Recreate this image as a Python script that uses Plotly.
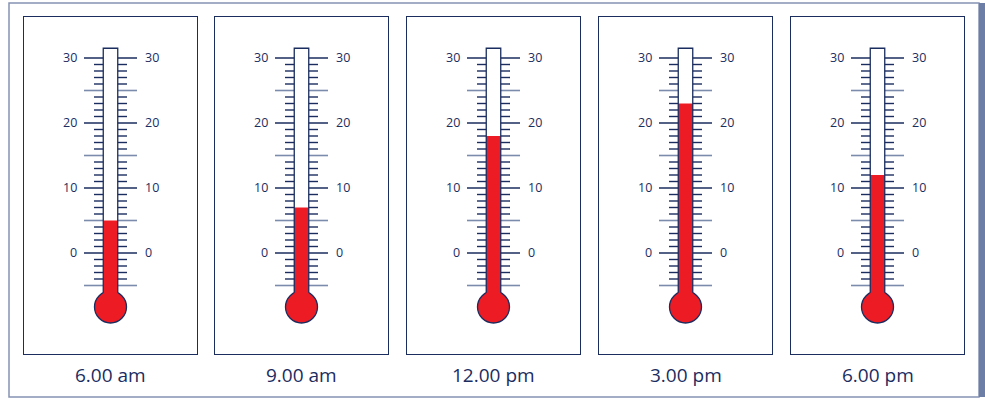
import plotly.graph_objects as go

# ---- data ----
times = ["6.00 am", "9.00 am", "12.00 pm", "3.00 pm", "6.00 pm"]
temps = [5, 7, 18, 23, 12]
major_ticks = [0, 10, 20, 30]
mid_ticks = [-5, 5, 15, 25]
minor_ticks = [v for v in range(-5, 31) if v % 5 != 0]

# ---- style / layout ----
W, H = 985, 399
NAVY = "#1b2d5f"
GRAY = "#7b8bab"
RED = "#ed1c24"
panel_left = [24, 215, 407, 599, 791]
panel_w = 173
panel_top, panel_bot = 17, 354
px_per_deg = 6.5
zero_px = 253
y_lo = (zero_px - panel_bot) / px_per_deg
y_hi = (zero_px - panel_top) / px_per_deg
half_w = panel_w / 2
tube_hw = 7.25
tube_top = 31.5
bulb_r = 16
bulb_c = (zero_px - 307) / px_per_deg
bulb_ry = bulb_r / px_per_deg
join_y = bulb_c + (bulb_r**2 - tube_hw**2) ** 0.5 / px_per_deg

fig = go.Figure()
shapes = []
annotations = []


def tick_segments(values, x_in, x_out):
    xs, ys = [], []
    for v in values:
        xs += [-x_out, -x_in, None, x_in, x_out, None]
        ys += [v, v, None, v, v, None]
    return xs, ys


for i, (t, val) in enumerate(zip(times, temps)):
    n = "" if i == 0 else str(i + 1)
    xa, ya = "x" + n, "y" + n
    left = panel_left[i] / W
    right = (panel_left[i] + panel_w) / W
    fig.update_layout(**{
        "xaxis" + n: dict(domain=[left, right], range=[-half_w, half_w], visible=True,
                          showticklabels=False, ticks="", showgrid=False, zeroline=False,
                          showline=True, mirror=True, linecolor=NAVY, linewidth=1.3,
                          fixedrange=True, anchor=ya),
        "yaxis" + n: dict(domain=[1 - panel_bot / H, 1 - panel_top / H], range=[y_lo, y_hi],
                          showticklabels=False, ticks="", showgrid=False, zeroline=False,
                          showline=True, mirror=True, linecolor=NAVY, linewidth=1.3,
                          fixedrange=True, anchor=xa),
    })
    # white tube fill
    shapes.append(dict(type="rect", xref=xa, yref=ya, x0=-tube_hw, x1=tube_hw,
                       y0=bulb_c, y1=tube_top, fillcolor="white", line_width=0, layer="below"))
    # bulb
    shapes.append(dict(type="circle", xref=xa, yref=ya, x0=-bulb_r, x1=bulb_r,
                       y0=bulb_c - bulb_ry, y1=bulb_c + bulb_ry, fillcolor=RED,
                       line=dict(color=NAVY, width=1.3), layer="below"))
    # mercury
    fig.add_trace(go.Bar(x=[0], y=[val - bulb_c], base=bulb_c, width=2 * tube_hw,
                         marker=dict(color=RED, line=dict(width=0)),
                         xaxis=xa, yaxis=ya, hoverinfo="skip", showlegend=False))
    # ticks
    for vals, x_out, col, lw in [(minor_ticks, 16.5, NAVY, 1.4),
                                 (mid_ticks, 26.5, GRAY, 1.6),
                                 (major_ticks, 26.5, NAVY, 1.5)]:
        xs, ys = tick_segments(vals, tube_hw, x_out)
        fig.add_trace(go.Scatter(x=xs, y=ys, mode="lines", line=dict(color=col, width=lw),
                                 xaxis=xa, yaxis=ya, hoverinfo="skip", showlegend=False))
    # tube outline (open at bottom)
    shapes.append(dict(type="path", xref=xa, yref=ya,
                       path=f"M {-tube_hw},{join_y} L {-tube_hw},{tube_top} L {tube_hw},{tube_top} L {tube_hw},{join_y}",
                       line=dict(color=NAVY, width=1.3), layer="above"))
    # tick labels
    for v in major_ticks:
        annotations.append(dict(xref=xa, yref=ya, x=-31.5, y=v, text=str(v), showarrow=False,
                                xanchor="right", yanchor="middle",
                                font=dict(family="Open Sans", size=12.5, color=NAVY)))
        annotations.append(dict(xref=xa, yref=ya, x=32.5, y=v, text=str(v), showarrow=False,
                                xanchor="left", yanchor="middle",
                                font=dict(family="Open Sans", size=12.5, color=NAVY)))
    # time label
    annotations.append(dict(xref=xa + " domain", yref="paper", x=0.5, y=1 - 375 / H, text=t,
                            showarrow=False, xanchor="center", yanchor="middle",
                            font=dict(family="Open Sans", size=19, color=NAVY)))

# outer frame
shapes.append(dict(type="rect", xref="paper", yref="paper", x0=9 / W, x1=979 / W,
                   y0=1 - 397 / H, y1=1 - 3 / H, line=dict(color="#8593b3", width=1.5),
                   fillcolor="rgba(0,0,0,0)", layer="below"))
shapes.append(dict(type="rect", xref="paper", yref="paper", x0=979 / W, x1=985 / W,
                   y0=1 - 397 / H, y1=1 - 3 / H, line_width=0, fillcolor="#6d7ea6", layer="below"))

fig.update_layout(width=W, height=H, margin=dict(l=0, r=0, t=0, b=0),
                  paper_bgcolor="white", plot_bgcolor="white",
                  shapes=shapes, annotations=annotations, showlegend=False,
                  barmode="overlay", hovermode=False)

fig.write_html("out.html", config={"displayModeBar": False},
               post_script="document.body.style.margin='0';document.body.style.overflow='hidden';")
